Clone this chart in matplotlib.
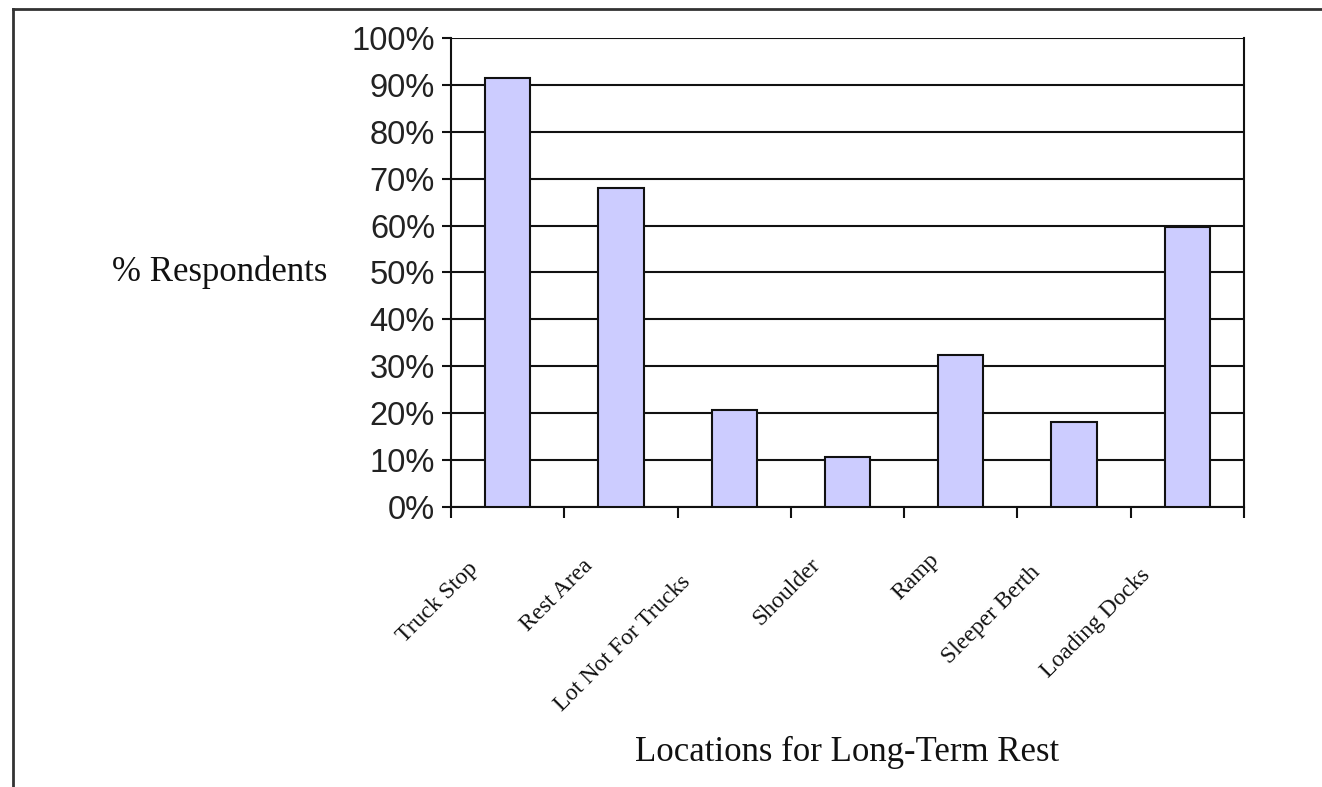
import matplotlib
matplotlib.use("Agg")
import matplotlib.pyplot as plt
from matplotlib.lines import Line2D
from matplotlib.transforms import ScaledTranslation, blended_transform_factory
import numpy as np

categories = ["Truck Stop", "Rest Area", "Lot Not For Trucks", "Shoulder",
              "Ramp", "Sleeper Berth", "Loading Docks"]
values = [91.5, 68.0, 20.7, 10.7, 32.4, 18.1, 59.8]
y_ticks = [0, 10, 20, 30, 40, 50, 60, 70, 80, 90, 100]
y_tick_labels = [f"{t}%" for t in y_ticks]
x_title = "Locations for Long-Term Rest"
y_title = "% Respondents"

W, H = 1322, 787
DPI = 100
fig = plt.figure(figsize=(W / DPI, H / DPI), dpi=DPI)
fig.patch.set_facecolor("white")

# axes position in pixels
L, R, T, B = 451, 1244, 38, 507
ax = fig.add_axes([L / W, 1 - B / H, (R - L) / W, (B - T) / H])

x = np.arange(len(categories))
ax.bar(x, values, width=0.4, color="#CCCCFF", edgecolor="#111111",
       linewidth=1.5, zorder=3)

ax.set_xlim(-0.5, len(categories) - 0.5)
ax.set_ylim(0, 100)
ax.set_yticks(y_ticks)
ax.set_yticklabels(y_tick_labels, fontfamily="Liberation Sans", fontsize=23.5,
                   color="#222222")
ax.yaxis.grid(True, color="#111111", linewidth=1.5, zorder=1)
ax.tick_params(axis="y", direction="out", length=6.5, width=1.5, pad=5,
               color="#111111")

# x ticks at category boundaries, no labels
ax.set_xticks(np.arange(-0.5, len(categories), 1.0))
ax.set_xticklabels([])
ax.tick_params(axis="x", direction="out", length=8, width=1.5, color="#111111")

for s in ax.spines.values():
    s.set_color("#111111")
    s.set_linewidth(1.5)
ax.spines["top"].set_visible(False)

# rotated category labels
trans = blended_transform_factory(ax.transData, ax.transAxes)
texts = []
for i, c in enumerate(categories):
    t = ax.text(i, -0.085, c, transform=trans, rotation=45,
                rotation_mode="anchor", ha="right", va="center",
                fontfamily="Liberation Serif", fontsize=17, color="#111111",
                clip_on=False)
    texts.append(t)

fig.canvas.draw()
renderer = fig.canvas.get_renderer()
for t in texts:
    bb = t.get_window_extent(renderer)
    s = 0.24 * bb.width
    dx = -s - 12
    dy = -s + 3
    t.set_transform(t.get_transform() + ScaledTranslation(dx / DPI, dy / DPI,
                                                          fig.dpi_scale_trans))

# axis titles
fig.text(((L + R) / 2) / W, 1 - 752 / H, x_title, ha="center", va="center",
         fontfamily="Liberation Serif", fontsize=25, color="#111111")
fig.text(112 / W, 1 - 272 / H, y_title, ha="left", va="center",
         fontfamily="Liberation Serif", fontsize=25, color="#111111")

# outer frame (left and top edges visible)
fig.add_artist(Line2D([13 / W, 13 / W], [0, 1 - 9 / H], transform=fig.transFigure,
                      color="#333333", linewidth=2))
fig.add_artist(Line2D([13 / W, 1], [1 - 9 / H, 1 - 9 / H], transform=fig.transFigure,
                      color="#333333", linewidth=2))

fig.savefig("out.png", dpi=DPI)
